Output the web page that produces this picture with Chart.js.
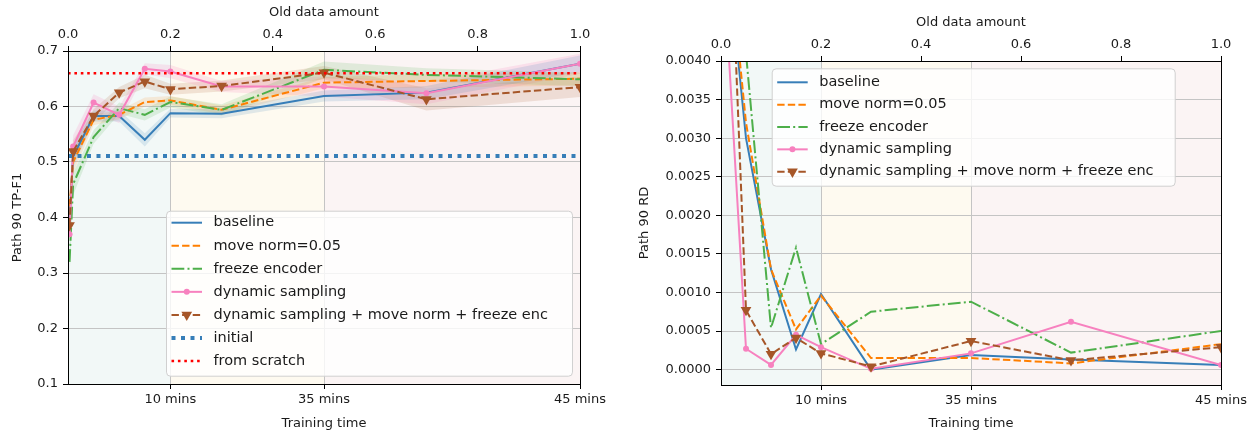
<!DOCTYPE html>
<html>
<head>
<meta charset="utf-8">
<script src="https://cdn.jsdelivr.net/npm/chart.js@4.4.1/dist/chart.umd.min.js"></script>
<style>
    html, body { margin: 0; padding: 0; background: #fff; }
    #wrap { position: relative; width: 1255px; height: 432px; }
    #tpChart { position: absolute; left: 0; top: 0; }
    #rdChart { position: absolute; left: 620px; top: 0; }
</style>
</head>
<body>
<div id="wrap">
    <canvas id="tpChart" width="620" height="432"></canvas>
    <canvas id="rdChart" width="635" height="432"></canvas>
</div>
<script>
// x positions of the evaluations (fraction of old data seen)
const oldDataAmount = [0.003, 0.01, 0.05, 0.1, 0.15, 0.2, 0.3, 0.5, 0.7, 1.0];
const phaseEdges = [0, 0.2, 0.5, 1.0];
const timeTickValues = [0.2, 0.5, 1.0];
const timeTickLabels = ['10 mins', '35 mins', '45 mins'];
const topTickValues = [0, 0.2, 0.4, 0.6, 0.8, 1.0];
const f1TickValues = [0.1, 0.2, 0.3, 0.4, 0.5, 0.6, 0.7];
const rdTickValues = [0, 0.0005, 0.001, 0.0015, 0.002, 0.0025, 0.003, 0.0035, 0.004];

// Path 90 TP-F1
const f1Baseline = [0.400, 0.510, 0.583, 0.583, 0.540, 0.588, 0.587, 0.619, 0.625, 0.677];
const f1MoveNorm = [0.420, 0.500, 0.576, 0.585, 0.608, 0.611, 0.594, 0.643, 0.646, 0.650];
const f1Freeze = [0.320, 0.460, 0.545, 0.597, 0.585, 0.608, 0.594, 0.666, 0.657, 0.649];
const f1Dynamic = [0.370, 0.528, 0.607, 0.585, 0.668, 0.663, 0.636, 0.636, 0.624, 0.677];
const f1Combo = [0.386, 0.519, 0.583, 0.625, 0.645, 0.631, 0.637, 0.661, 0.613, 0.635];
// half width of the shaded spread around each F1 line
const f1BaselineSpread = [0.03, 0.02, 0.010, 0.010, 0.012, 0.008, 0.008, 0.010, 0.012, 0.015];
const f1MoveNormSpread = [0.03, 0.02, 0.010, 0.008, 0.008, 0.008, 0.008, 0.010, 0.012, 0.012];
const f1FreezeSpread = [0.03, 0.02, 0.012, 0.010, 0.010, 0.010, 0.010, 0.015, 0.012, 0.012];
const f1DynamicSpread = [0.03, 0.02, 0.015, 0.015, 0.010, 0.012, 0.010, 0.018, 0.020, 0.018];
const f1ComboSpread = [0.03, 0.02, 0.012, 0.010, 0.012, 0.010, 0.010, 0.012, 0.020, 0.018];
const f1Initial = 0.511;
const f1FromScratch = 0.660;

// Path 90 RD
const rdBaseline = [0.0085, 0.0056, 0.0030, 0.0013, 0.00026, 0.00098, 0.00000, 0.00019, 0.00013, 0.00006];
const rdMoveNorm = [0.0088, 0.0058, 0.0032, 0.0013, 0.00052, 0.00096, 0.00015, 0.00015, 0.00008, 0.00033];
const rdFreeze = [0.0090, 0.0070, 0.0041, 0.00054, 0.00158, 0.00033, 0.00075, 0.00088, 0.00022, 0.00050];
const rdDynamic = [0.0085, 0.0047, 0.00027, 0.00006, 0.00045, 0.00029, 0.00001, 0.00021, 0.00062, 0.00006];
const rdCombo = [0.0090, 0.0072, 0.00077, 0.00020, 0.00041, 0.00021, 0.00004, 0.00037, 0.00012, 0.00029];

const styles = {
    baseline: { label: 'baseline', color: '#377eb8', band: 'rgba(55,126,184,0.15)', dash: [] },
    moveNorm: { label: 'move norm=0.05', color: '#ff7f00', band: 'rgba(255,127,0,0.13)', dash: [7.4, 3.2] },
    freeze: { label: 'freeze encoder', color: '#4daf4a', band: 'rgba(77,175,74,0.15)', dash: [12.8, 3.2, 2, 3.2] },
    dynamic: { label: 'dynamic sampling', color: '#f781bf', band: 'rgba(247,129,191,0.18)', dash: [], marker: 'circle', radius: 3 },
    combo: { label: 'dynamic sampling + move norm + freeze enc', color: '#a65628', band: 'rgba(166,86,40,0.15)', dash: [7.4, 3.2], marker: 'triangle', radius: 6.2, rotation: 180 },
    initial: { label: 'initial', color: '#377eb8', dash: [4, 5.5], width: 4 },
    scratch: { label: 'from scratch', color: '#ff0000', dash: [2.6, 3.8], width: 2.6 }
};
const phaseColors = ['#f2f8f7', '#fefaf0', '#fbf4f4'];

Chart.defaults.font.family = "'DejaVu Sans', sans-serif";
Chart.defaults.font.size = 13;
Chart.defaults.color = '#1a1a1a';

function lineSet(st, values, order) {
    return {
        label: st.label,
        data: oldDataAmount.map((x, i) => ({ x: x, y: values[i] })),
        borderColor: st.color, backgroundColor: st.color,
        borderWidth: st.width || 2, borderDash: st.dash,
        pointRadius: st.marker ? st.radius : 0, pointStyle: st.marker || 'circle',
        pointRotation: st.rotation || 0, pointBorderWidth: 0, pointBackgroundColor: st.color,
        pointHoverRadius: 0, fill: false, tension: 0, order: order
    };
}

function hLine(st, value, order) {
    return {
        label: st.label,
        data: [{ x: 0, y: value }, { x: 1, y: value }],
        borderColor: st.color, borderWidth: st.width, borderDash: st.dash,
        pointRadius: 0, fill: false, order: order
    };
}

function bandSets(st, values, spread) {
    const common = { borderColor: 'rgba(0,0,0,0)', borderWidth: 0, pointRadius: 0, tension: 0, order: 20 };
    return [
        Object.assign({ data: oldDataAmount.map((x, i) => ({ x: x, y: values[i] - spread[i] })), fill: false }, common),
        Object.assign({ data: oldDataAmount.map((x, i) => ({ x: x, y: values[i] + spread[i] })), fill: '-1', backgroundColor: st.band }, common)
    ];
}

const phaseShade = {
    id: 'phaseShade',
    beforeDraw(chart) {
        const { ctx, chartArea: a, scales: { x } } = chart;
        ctx.save();
        for (let i = 0; i < phaseEdges.length - 1; i++) {
            const x0 = x.getPixelForValue(phaseEdges[i]);
            const x1 = x.getPixelForValue(phaseEdges[i + 1]);
            ctx.fillStyle = phaseColors[i];
            ctx.fillRect(x0, a.top, x1 - x0, a.bottom - a.top);
        }
        ctx.restore();
    }
};

// axes frame + matplotlib style legend
const frameLegend = {
    id: 'frameLegend',
    afterDraw(chart, args, opts) {
        const { ctx, chartArea: a } = chart;
        ctx.save();
        ctx.setLineDash([]);
        ctx.strokeStyle = '#000';
        ctx.lineWidth = 1;
        ctx.strokeRect(a.left + 0.5, a.top + 0.5, a.right - a.left, a.bottom - a.top);

        const bx = a.left + opts.dx, by = a.top + opts.dy;
        ctx.beginPath();
        ctx.roundRect(bx + 0.5, by + 0.5, opts.w, opts.h, 4);
        ctx.fillStyle = 'rgba(255,255,255,0.8)';
        ctx.fill();
        ctx.strokeStyle = '#d0d0d0';
        ctx.stroke();

        ctx.font = "14.5px 'DejaVu Sans', sans-serif";
        ctx.textBaseline = 'middle';
        opts.items.forEach((st, i) => {
            const y = by + opts.firstRow + i * opts.rowGap;
            const x0 = bx + 5.5, x1 = bx + 36;
            ctx.beginPath();
            ctx.setLineDash(st.dash);
            ctx.lineWidth = st.width || 2;
            ctx.strokeStyle = st.color;
            ctx.moveTo(x0, y);
            ctx.lineTo(x1, y);
            ctx.stroke();
            ctx.setLineDash([]);
            const xm = (x0 + x1) / 2;
            ctx.fillStyle = st.color;
            if (st.marker === 'circle') {
                ctx.beginPath();
                ctx.arc(xm, y, st.radius, 0, Math.PI * 2);
                ctx.fill();
            } else if (st.marker === 'triangle') {
                const r = st.radius;
                ctx.beginPath();
                ctx.moveTo(xm, y + r);
                ctx.lineTo(xm - r * 0.866, y - r / 2);
                ctx.lineTo(xm + r * 0.866, y - r / 2);
                ctx.closePath();
                ctx.fill();
            }
            ctx.fillStyle = '#1a1a1a';
            ctx.fillText(st.label, bx + 47.5, y);
        });
        ctx.restore();
    }
};

function buildScales(cfg) {
    return {
        x: {
            type: 'linear', position: 'bottom', min: 0, max: 1,
            afterFit: s => { s.height = cfg.bottomHeight; },
            afterBuildTicks: s => { s.ticks = timeTickValues.map(v => ({ value: v })); },
            ticks: { autoSkip: false, maxRotation: 0, padding: 3, callback: (v, i) => timeTickLabels[i] },
            grid: { color: '#c4c4c4', lineWidth: 1, tickColor: '#000', tickLength: 5 },
            border: { display: false },
            title: { display: true, text: 'Training time', padding: { top: 0, bottom: 1 } }
        },
        xTop: {
            type: 'linear', position: 'top', min: 0, max: 1,
            afterFit: s => { s.height = cfg.topHeight; },
            afterBuildTicks: s => { s.ticks = topTickValues.map(v => ({ value: v })); },
            ticks: { autoSkip: false, maxRotation: 0, padding: 4, callback: v => v.toFixed(1) },
            grid: { drawOnChartArea: false, tickColor: '#000', tickLength: 5 },
            border: { display: false },
            title: { display: true, text: 'Old data amount', padding: { top: cfg.topTitlePad, bottom: 0 } }
        },
        y: {
            type: 'linear', position: 'left', min: cfg.yMin, max: cfg.yMax,
            afterFit: s => { s.width = cfg.yWidth; },
            afterBuildTicks: s => { s.ticks = cfg.yTicks.map(v => ({ value: v })); },
            ticks: { padding: 5, callback: v => v.toFixed(cfg.yDigits) },
            grid: { color: '#c4c4c4', lineWidth: 1, tickColor: '#000', tickLength: 5 },
            border: { display: false },
            title: { display: true, text: cfg.yTitle, padding: { top: cfg.yTitlePad, bottom: 0 } }
        }
    };
}

function legendItems(withRefs) {
    const list = [styles.baseline, styles.moveNorm, styles.freeze, styles.dynamic, styles.combo];
    return withRefs ? list.concat([styles.initial, styles.scratch]) : list;
}

const tpDatasets = [
    hLine(styles.scratch, f1FromScratch, 0),
    hLine(styles.initial, f1Initial, 1),
    lineSet(styles.combo, f1Combo, 2),
    lineSet(styles.dynamic, f1Dynamic, 3),
    lineSet(styles.freeze, f1Freeze, 4),
    lineSet(styles.moveNorm, f1MoveNorm, 5),
    lineSet(styles.baseline, f1Baseline, 6)
].concat(
    bandSets(styles.baseline, f1Baseline, f1BaselineSpread),
    bandSets(styles.moveNorm, f1MoveNorm, f1MoveNormSpread),
    bandSets(styles.freeze, f1Freeze, f1FreezeSpread),
    bandSets(styles.dynamic, f1Dynamic, f1DynamicSpread),
    bandSets(styles.combo, f1Combo, f1ComboSpread)
);

new Chart(document.getElementById('tpChart'), {
    type: 'line',
    data: { datasets: tpDatasets },
    options: {
        responsive: false, animation: false,
        layout: { padding: { left: 0, right: 40, top: 0, bottom: 0 } },
        scales: buildScales({
            bottomHeight: 48, topHeight: 51, topTitlePad: 5, yWidth: 68, yTitlePad: 10,
            yMin: 0.1, yMax: 0.7, yTicks: f1TickValues, yDigits: 1, yTitle: 'Path 90 TP-F1'
        }),
        plugins: {
            legend: { display: false }, tooltip: { enabled: false },
            filler: { drawTime: 'beforeDatasetsDraw' },
            frameLegend: { dx: 98, dy: 159.7, w: 406, h: 165, firstRow: 12, rowGap: 23.05, items: legendItems(true) }
        }
    },
    plugins: [phaseShade, frameLegend]
});

new Chart(document.getElementById('rdChart'), {
    type: 'line',
    data: {
        datasets: [
            lineSet(styles.combo, rdCombo, 0),
            lineSet(styles.dynamic, rdDynamic, 1),
            lineSet(styles.freeze, rdFreeze, 2),
            lineSet(styles.moveNorm, rdMoveNorm, 3),
            lineSet(styles.baseline, rdBaseline, 4)
        ]
    },
    options: {
        responsive: false, animation: false,
        layout: { padding: { left: 0, right: 34, top: 0, bottom: 0 } },
        scales: buildScales({
            bottomHeight: 47, topHeight: 61, topTitlePad: 15, yWidth: 101, yTitlePad: 17,
            yMin: -0.0002, yMax: 0.004, yTicks: rdTickValues, yDigits: 4, yTitle: 'Path 90 RD'
        }),
        plugins: {
            legend: { display: false }, tooltip: { enabled: false },
            frameLegend: { dx: 50.7, dy: 7.3, w: 403, h: 117.4, firstRow: 14, rowGap: 22.35, items: legendItems(false) }
        }
    },
    plugins: [phaseShade, frameLegend]
});
</script>
</body>
</html>
